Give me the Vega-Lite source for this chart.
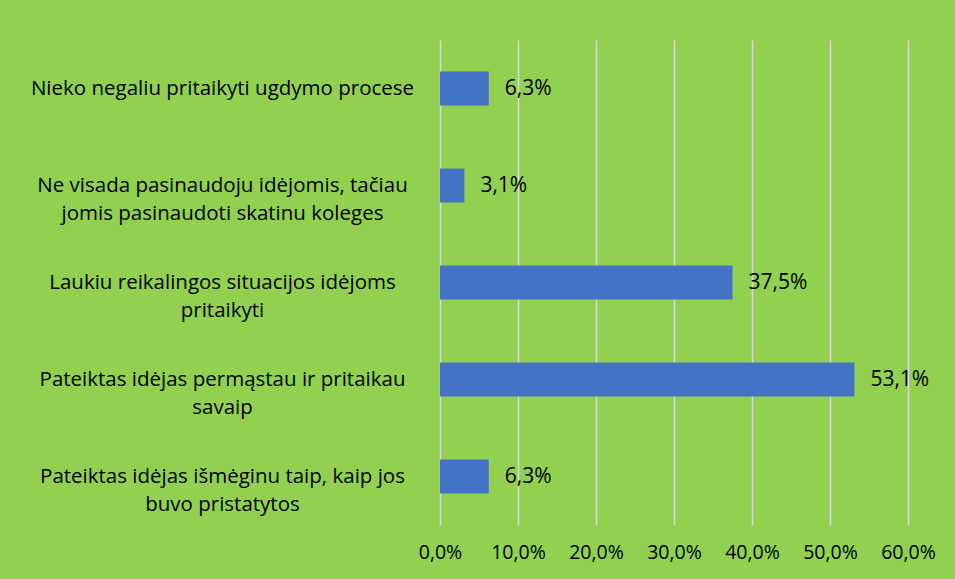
{
  "$schema": "https://vega.github.io/schema/vega-lite/v6.json",
  "width": 468,
  "height": 485,
  "autosize": {"type": "none"},
  "padding": {"left": 440, "top": 40, "right": 47, "bottom": 54},
  "background": "#92D050",
  "config": {
    "view": {"stroke": null},
    "font": "Open Sans",
    "locale": {
      "number": {"decimal": ",", "thousands": " ", "grouping": [3], "currency": ["", " €"]}
    }
  },
  "data": {
    "values": [
      {"category": "Nieko negaliu pritaikyti ugdymo procese", "value": 0.0625},
      {"category": "Ne visada pasinaudoju idėjomis, tačiau|jomis pasinaudoti skatinu koleges", "value": 0.03125},
      {"category": "Laukiu reikalingos situacijos idėjoms|pritaikyti", "value": 0.375},
      {"category": "Pateiktas idėjas permąstau ir pritaikau|savaip", "value": 0.53125},
      {"category": "Pateiktas idėjas išmėginu taip, kaip jos|buvo pristatytos", "value": 0.0625}
    ]
  },
  "encoding": {
    "y": {
      "field": "category",
      "type": "nominal",
      "sort": null,
      "scale": {"paddingInner": 0.65, "paddingOuter": 0.325},
      "axis": {
        "title": null,
        "ticks": false,
        "domain": false,
        "labelAlign": "center",
        "labelBaseline": "middle",
        "labelPadding": 218,
        "labelFontSize": 20.5,
        "labelLineHeight": 28,
        "labelColor": "#000000",
        "labelLimit": 0,
        "labelExpr": "split(datum.label, '|')"
      }
    },
    "x": {
      "field": "value",
      "type": "quantitative",
      "scale": {"domain": [0, 0.6], "nice": false},
      "axis": {
        "title": null,
        "values": [0, 0.1, 0.2, 0.3, 0.4, 0.5, 0.6],
        "format": ".1%",
        "grid": true,
        "gridColor": "#D9D9D9",
        "gridWidth": 1.5,
        "domain": false,
        "ticks": false,
        "labelPadding": 18,
        "labelFontSize": 19.5,
        "labelColor": "#000000",
        "labelFlush": false
      }
    }
  },
  "layer": [
    {"mark": {"type": "bar", "color": "#4472C4"}},
    {
      "mark": {"type": "text", "align": "left", "baseline": "middle", "dx": 16, "fontSize": 21, "color": "#000000"},
      "encoding": {
        "text": {"field": "value", "type": "quantitative", "format": ".1%"}
      }
    }
  ]
}
